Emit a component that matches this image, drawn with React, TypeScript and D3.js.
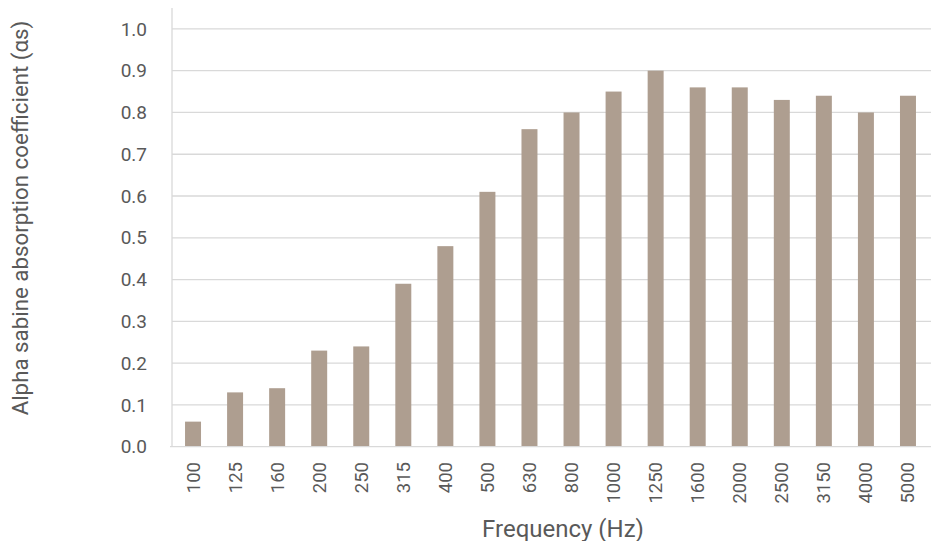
import React, { useEffect, useRef } from 'react'
import * as d3 from 'd3'

// frequency bands (Hz) and measured alpha sabine values
const frequencies = ['100', '125', '160', '200', '250', '315', '400', '500', '630', '800', '1000', '1250', '1600', '2000', '2500', '3150', '4000', '5000']
const alphaValues = [0.06, 0.13, 0.14, 0.23, 0.24, 0.39, 0.48, 0.61, 0.76, 0.8, 0.85, 0.9, 0.86, 0.86, 0.83, 0.84, 0.8, 0.84]
const yTicks = [0, 0.1, 0.2, 0.3, 0.4, 0.5, 0.6, 0.7, 0.8, 0.9, 1.0]

export default function App() {
  const svgRef = useRef<SVGSVGElement | null>(null)

  useEffect(() => {
    if (!svgRef.current) return
    const width = 931
    const height = 541
    const svg = d3.select(svgRef.current)
    svg.selectAll('*').remove()
    svg.attr('width', width).attr('height', height)

    const font = 'Roboto, "Open Sans", sans-serif'
    const textColor = '#595959'
    const gridColor = '#d9d9d9'

    const left = 172
    const right = 929
    const yScale = d3.scaleLinear().domain([0, 1.05]).range([446.7, 8])
    const xScale = d3.scaleBand<string>()
      .domain(frequencies)
      .range([left, right])
      .paddingInner(0.62)
      .paddingOuter(0.31)

    // horizontal gridlines
    svg.append('g')
      .selectAll('line')
      .data(yTicks.slice(1))
      .enter()
      .append('line')
      .attr('x1', left)
      .attr('x2', width)
      .attr('y1', d => yScale(d))
      .attr('y2', d => yScale(d))
      .attr('stroke', gridColor)
      .attr('stroke-width', 1.3)

    // bars
    svg.append('g')
      .selectAll('rect')
      .data(alphaValues)
      .enter()
      .append('rect')
      .attr('x', (_, i) => xScale(frequencies[i]) ?? 0)
      .attr('width', xScale.bandwidth())
      .attr('y', d => yScale(d))
      .attr('height', d => yScale(0) - yScale(d))
      .attr('fill', '#ae9e90')

    // axis lines
    svg.append('line')
      .attr('x1', left).attr('x2', left)
      .attr('y1', yScale(1.05)).attr('y2', yScale(0))
      .attr('stroke', gridColor).attr('stroke-width', 1.3)
    svg.append('line')
      .attr('x1', 170).attr('x2', width)
      .attr('y1', yScale(0)).attr('y2', yScale(0))
      .attr('stroke', gridColor).attr('stroke-width', 1.3)

    // y tick labels
    svg.append('g')
      .selectAll('text')
      .data(yTicks)
      .enter()
      .append('text')
      .attr('x', 147)
      .attr('y', d => yScale(d))
      .attr('dy', '0.35em')
      .attr('text-anchor', 'end')
      .style('font-family', font)
      .style('font-size', '19px')
      .attr('fill', textColor)
      .text(d => d.toFixed(1))

    // x tick labels (rotated)
    svg.append('g')
      .selectAll('text')
      .data(frequencies)
      .enter()
      .append('text')
      .attr('transform', d => `translate(${(xScale(d) ?? 0) + xScale.bandwidth() / 2}, 462) rotate(-90)`)
      .attr('dy', '0.35em')
      .attr('text-anchor', 'end')
      .style('font-family', font)
      .style('font-size', '18.5px')
      .attr('fill', textColor)
      .text(d => d)

    // axis titles
    svg.append('text')
      .attr('x', 563)
      .attr('y', 536.5)
      .attr('text-anchor', 'middle')
      .style('font-family', font)
      .style('font-size', '24px')
      .attr('fill', textColor)
      .text('Frequency (Hz)')

    svg.append('text')
      .attr('transform', 'translate(28, 218) rotate(-90)')
      .attr('text-anchor', 'middle')
      .style('font-family', font)
      .style('font-size', '22.3px')
      .attr('fill', textColor)
      .text('Alpha sabine absorption coefficient (αs)')
  }, [])

  return (
    <svg ref={svgRef} style={{ position: 'absolute', left: 0, top: 0, background: '#ffffff' }}></svg>
  )
}
